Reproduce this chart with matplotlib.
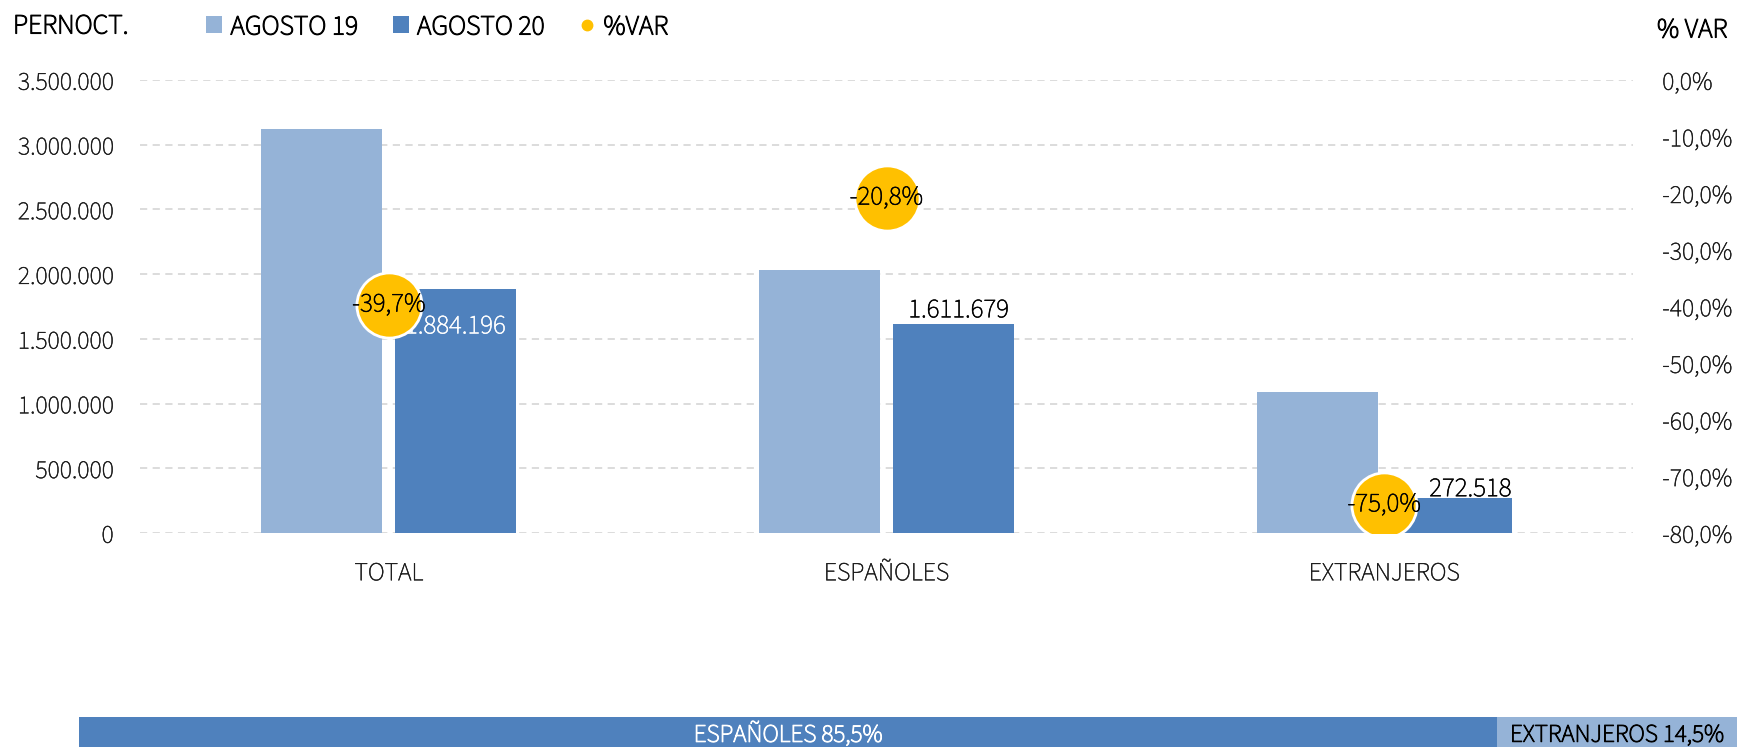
import matplotlib
matplotlib.use('Agg')
import matplotlib.pyplot as plt
import matplotlib.patheffects as pe
import numpy as np
from matplotlib.ticker import FuncFormatter
from matplotlib.patches import Patch
from matplotlib.lines import Line2D

# ---------------- data ----------------
categories = ['TOTAL', 'ESPAÑOLES', 'EXTRANJEROS']
agosto19 = [3124703, 2034948, 1090072]
agosto20 = [1884196, 1611679, 272518]
pct_var = [-39.7, -20.8, -75.0]
share_labels = ['ESPAÑOLES', 'EXTRANJEROS']
share_values = [85.5, 14.5]

plt.rcParams['font.family'] = ['Source Sans 3', 'Source Sans Pro', 'Lato', 'DejaVu Sans']

C19 = '#95B3D7'
C20 = '#4F81BD'
GOLD = '#FFC000'
TXT = '#000000'
TICK = '#1a1a1a'
FS = 18.6      # tick labels
DFS = 19.5     # data labels
LFS = 20       # legend / axis titles


def thick(color, lw):
    return [pe.withStroke(linewidth=lw, foreground=color)]


def fmt_thousands(v):
    return f"{int(round(v)):,}".replace(',', '.')


def fmt_pct(v):
    if abs(v) < 1e-9:
        v = 0.0
    return f"{v:.1f}%".replace('.', ',')


W, H = 1737, 747
fig = plt.figure(figsize=(W / 100, H / 100), dpi=100)
ax = fig.add_axes([140 / W, (H - 533) / H, 1493 / W, 453 / H])

x = np.arange(len(categories))
bw = 0.243
off = 0.1345
ax.bar(x - off, agosto19, bw, color=C19, zorder=2)
ax.bar(x + off, agosto20, bw, color=C20, zorder=2)

ax.set_xlim(-0.5, len(categories) - 0.5)
ax.set_ylim(0, 3500000)
ax.set_yticks(np.arange(0, 3500001, 500000))
ax.yaxis.set_major_formatter(FuncFormatter(lambda v, p: fmt_thousands(v)))
ax.grid(axis='y', color='#D9D9D9', linestyle=(0, (4, 3)), linewidth=1.3)
ax.set_axisbelow(True)
for s in ax.spines.values():
    s.set_visible(False)
ax.set_xticks(x, categories)
ax.tick_params(axis='both', length=0, labelsize=FS, colors=TICK)
ax.tick_params(axis='y', pad=19)
ax.tick_params(axis='x', pad=20)

# value labels of AGOSTO 20 (style: offsets in points, colours)
lab_offsets = [(0, -27), (4, 10), (14, 6)]
lab_colors = ['white', TXT, TXT]
for xi, v, (dx, dy), c in zip(x + off, agosto20, lab_offsets, lab_colors):
    ax.annotate(fmt_thousands(v), (xi, v), xytext=(dx, dy), textcoords='offset points',
                ha='center', va='center', fontsize=DFS, color=c, zorder=3,
                path_effects=thick(c, 0.4))

# secondary axis
ax2 = ax.twinx()
ax2.set_ylim(-80, 0)
ax2.set_yticks(np.arange(-80, 1, 10))
ax2.yaxis.set_major_formatter(FuncFormatter(lambda v, p: fmt_pct(v)))
for s in ax2.spines.values():
    s.set_visible(False)
ax2.tick_params(axis='y', length=0, labelsize=FS, colors=TICK, pad=21)
ax2.scatter(x, pct_var, s=2200, color=GOLD, edgecolor='white', linewidth=2, zorder=5)
for xi, p in zip(x, pct_var):
    ax2.text(xi, p, fmt_pct(p), ha='center', va='center', fontsize=DFS, color=TXT,
             zorder=6, path_effects=thick(TXT, 0.4))

# titles & legend
fig.text(13 / W, 1 - 26 / H, 'PERNOCT.', ha='left', va='center', fontsize=LFS,
         color=TXT, path_effects=thick(TXT, 0.8))
fig.text(1657 / W, 1 - 30 / H, '% VAR', ha='left', va='center', fontsize=LFS,
         color=TXT, path_effects=thick(TXT, 0.8))
handles = [Patch(facecolor=C19, label='AGOSTO 19'),
           Patch(facecolor=C20, label='AGOSTO 20'),
           Line2D([], [], marker='o', linestyle='none', markersize=7.5,
                  markerfacecolor=GOLD, markeredgecolor=GOLD, label='%VAR')]
leg = fig.legend(handles=handles, loc='center left', bbox_to_anchor=(206 / W, 1 - 27 / H),
                 ncol=3, frameon=False, fontsize=LFS,
                 handlelength=0.58, handleheight=0.56,
                 handletextpad=0.3, columnspacing=1.25, borderpad=0, borderaxespad=0,
                 labelcolor=TXT)
for t in leg.get_texts():
    t.set_path_effects(thick(TXT, 0.8))

# bottom share bar
ax3 = fig.add_axes([79 / W, (H - 753) / H, 1 - 79 / W, 36 / H])
share_colors = [C20, C19]
share_txt = ['white', TXT]
left = 0
for lab, v, c, tc in zip(share_labels, share_values, share_colors, share_txt):
    ax3.barh(0, v, left=left, height=1, color=c)
    ax3.text(left + v / 2, 0, f"{lab} {fmt_pct(v)}", ha='center', va='center',
             fontsize=18.2, color=tc, path_effects=thick(tc, 0.7))
    left += v
ax3.set_xlim(0, sum(share_values))
ax3.set_ylim(-0.5, 0.5)
ax3.axis('off')

fig.canvas.draw()
for a in (ax, ax2):
    for lbl in a.get_xticklabels() + a.get_yticklabels():
        lbl.set_path_effects(thick(TICK, 0.3))

fig.savefig('out.png', dpi=100)
